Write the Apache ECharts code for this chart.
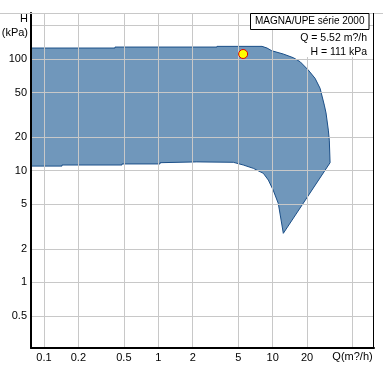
<!DOCTYPE html>
<html>
<head>
<meta charset="utf-8">
<script src="https://cdn.jsdelivr.net/npm/echarts@6/dist/echarts.min.js"></script>
<style>html,body{margin:0;padding:0;background:#fff}#c{width:383px;height:367px}</style>
</head>
<body>
<div id="c"></div>
<script>
// Axis ranges and ticks
const xMin = 0.077, xMax = 77;
const yMin = 0.2585, yMax = 258.5;
const xTickLabels = [0.1, 0.2, 0.5, 1, 2, 5, 10, 20];
const xGridValues = [0.1, 0.2, 0.5, 1, 2, 5, 10, 20, 50];
const yTickLabels = [0.5, 1, 2, 5, 10, 20, 50, 100];
const yGridValues = [0.5, 1, 2, 5, 10, 20, 50, 100, 200];

// Operating range boundary (Q in m3/h, H in kPa), traced clockwise
const boundaryQ = [0.077, 0.418, 0.418, 3.26, 3.26, 8.08, 8.93, 9.82, 12.4, 15.2, 17.4, 20.5, 23.5, 26.0, 28.3, 29.3, 30.7, 31.3, 31.8,
                   12.4, 11.2, 10.1, 9.17, 8.29, 6.78, 5.54, 4.53, 2.17, 1.035, 1.035, 0.481, 0.481, 0.1437, 0.1437, 0.077];
const boundaryH = [125.5, 125.5, 128.1, 128.1, 129.9, 129.9, 125.5, 118.7, 110.9, 102.7, 94.6, 79.7, 67.2, 54.7, 38.7, 32.9, 23.1, 18.8, 11.8,
                   2.75, 5.1, 6.72, 8.25, 9.48, 10.5, 11.25, 11.9, 12.0, 11.8, 11.5, 11.5, 11.25, 11.25, 11.0, 11.0];

// Duty point
const dutyQ = [5.52];
const dutyH = [111];

const titleText = 'MAGNA/UPE série 2000';
const dutyTextQ = 'Q = 5.52 m?/h';
const dutyTextH = 'H = 111 kPa';

const FONT = 'Liberation Sans, Arial, sans-serif';
const fmt = v => String(+(+v).toPrecision(3));

const chart = echarts.init(document.getElementById('c'), null, {renderer: 'canvas'});
chart.setOption({
  animation: false,
  backgroundColor: '#fff',
  grid: {left: 31, right: 9, top: 13, bottom: 19, show: false},
  xAxis: {
    type: 'log', logBase: 10, min: xMin, max: xMax, z: 3,
    axisLine: {show: true, onZero: false, lineStyle: {color: '#000', width: 2}},
    axisTick: {show: false, customValues: xGridValues},
    axisLabel: {customValues: xTickLabels, formatter: fmt, color: '#000', fontSize: 11, fontFamily: FONT, margin: 4, showMinLabel: true, showMaxLabel: true},
    splitLine: {show: true, lineStyle: {color: '#c8c8c8', width: 1}},
    minorTick: {show: false}, minorSplitLine: {show: false}
  },
  yAxis: {
    type: 'log', logBase: 10, min: yMin, max: yMax, z: 3,
    axisLine: {show: true, onZero: false, lineStyle: {color: '#000', width: 2}},
    axisTick: {show: false, customValues: yGridValues},
    axisLabel: {customValues: yTickLabels, formatter: fmt, color: '#000', fontSize: 11, fontFamily: FONT, margin: 4},
    splitLine: {show: true, lineStyle: {color: '#c8c8c8', width: 1}},
    minorTick: {show: false}, minorSplitLine: {show: false}
  },
  series: [
    {
      type: 'custom', z: 1, silent: true,
      data: [[boundaryQ[0], boundaryH[0]]],
      renderItem: function (params, api) {
        const pts = boundaryQ.map((q, i) => api.coord([q, boundaryH[i]]));
        return {
          type: 'polygon',
          shape: {points: pts},
          style: {fill: '#7097bb', stroke: '#1b4f88', lineWidth: 1}
        };
      }
    },
    {
      type: 'scatter', z: 5,
      data: dutyQ.map((q, i) => [q, dutyH[i]]),
      symbol: 'circle', symbolSize: 9,
      itemStyle: {color: '#ffff00', borderColor: '#e00000', borderWidth: 1, opacity: 1}
    }
  ],
  graphic: [
    {type: 'line', z: 10, shape: {x1: 0, y1: 13.5, x2: 383, y2: 13.5}, style: {stroke: '#c8c8c8', lineWidth: 1}},
    {type: 'line', z: 10, shape: {x1: 373.5, y1: 13, x2: 373.5, y2: 348}, style: {stroke: '#000', lineWidth: 1}},
    {type: 'rect', z: 11, shape: {x: 297, y: 29.5, width: 72, height: 27.5}, style: {fill: '#fff'}},
    {type: 'rect', z: 12, shape: {x: 250.5, y: 13.5, width: 118.5, height: 16}, style: {fill: '#fff', stroke: '#000', lineWidth: 1}},
    {type: 'text', z: 13, style: {x: 255, y: 21.7, text: titleText, fill: '#000', font: '10px ' + FONT, textAlign: 'left', textVerticalAlign: 'middle'}},
    {type: 'text', z: 13, style: {x: 367, y: 37.7, text: dutyTextQ, fill: '#000', font: '10.5px ' + FONT, textAlign: 'right', textVerticalAlign: 'middle'}},
    {type: 'text', z: 13, style: {x: 367, y: 51.7, text: dutyTextH, fill: '#000', font: '10.5px ' + FONT, textAlign: 'right', textVerticalAlign: 'middle'}},
    {type: 'text', z: 13, style: {x: 28, y: 19, text: 'H', fill: '#000', font: '11px ' + FONT, textAlign: 'right', textVerticalAlign: 'middle'}},
    {type: 'text', z: 13, style: {x: 28, y: 33, text: '(kPa)', fill: '#000', font: '11px ' + FONT, textAlign: 'right', textVerticalAlign: 'middle'}},
    {type: 'text', z: 13, style: {x: 352.5, y: 357, text: 'Q(m?/h)', fill: '#000', font: '11px ' + FONT, textAlign: 'center', textVerticalAlign: 'middle'}}
  ]
});
</script>
</body>
</html>
